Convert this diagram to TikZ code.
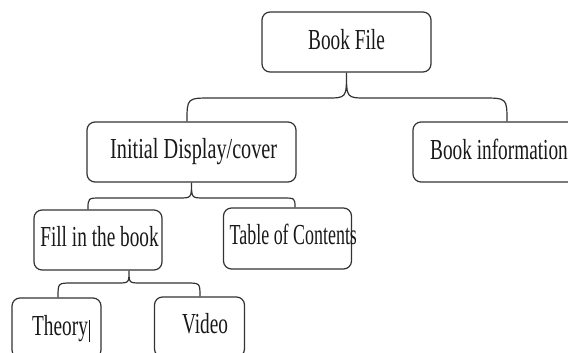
\documentclass[tikz,border=0pt]{standalone}
\usepackage{fontspec}
\setmainfont{Liberation Serif}[FakeStretch=0.665]
\usetikzlibrary{calc}
\tikzset{
  box/.style={draw=black!80, line width=1.2pt, rounded corners=8pt, inner sep=0pt, fill=white},
  lbl/.style={inner sep=0pt, text=black!90, font=\fontsize{29pt}{32pt}\selectfont},
  conn/.style={draw=black!80, line width=1.2pt},
}
\newcommand\mybrace[6]{% #1 tip, #2 left end, #3 right end, #4 y of bar, #5 tip half width, #6 end radius
  \draw[conn] let \p1=#1, \p2=#2, \p3=#3 in
    (\p2) .. controls (\x2,#4) .. (\x2+#6pt,#4) -- (\x1-#5pt,#4)
    .. controls (\x1,#4) .. (\p1)
    .. controls (\x1,#4) .. (\x1+#5pt,#4) -- (\x3-#6pt,#4)
    .. controls (\x3,#4) .. (\p3);
}
\begin{document}
\begin{tikzpicture}[x=1pt,y=1pt]
\useasboundingbox (0,0) rectangle (568,-353);
\clip (0,0) rectangle (568,-353);
\fill[white] (0,0) rectangle (568,-353);
% boxes
\node[box, minimum width=169pt, minimum height=60pt] (bf) at (346.5,-42) {};
\node[box, minimum width=209pt, minimum height=60pt] (init) at (191.5,-152) {};
\node[box, minimum width=172pt, minimum height=60pt] (info) at (499,-152) {};
\node[box, minimum width=128pt, minimum height=60pt] (fill) at (98,-240) {};
\node[box, minimum width=128pt, minimum height=61pt] (toc) at (287.5,-238.5) {};
\node[box, minimum width=89pt, minimum height=60pt] (theory) at (56.5,-328) {};
\node[box, minimum width=90pt, minimum height=60pt] (video) at (199.5,-327) {};
% texts
\node[lbl, anchor=base] (bft) at (346.5,-50) {Book File};
\node[lbl, anchor=base] (initt) at (193.7,-158) {\scalebox{1.05}[1]{Initial Display/cover}};
\node[lbl, anchor=base] (infot) at (499,-159) {Book information};
\node[lbl, anchor=base] (fillt) at (99.5,-246) {Fill in the book};
\node[lbl, anchor=base west] (toct) at (229.5,-244) {\scalebox{0.93}[1]{Table of Contents}};
\node[lbl, anchor=base west] (theoryt) at (32,-335) {Theory\kern1pt\rule[-7pt]{1.1pt}{22pt}};
\node[lbl, anchor=base] (videot) at (205,-333) {Video};
% connectors
\mybrace{(bf.south)}{([xshift=-4.5pt]init.north)}{([xshift=8pt]info.north)}{-98}{20}{25}
\mybrace{(init.south)}{([xshift=-10pt]fill.north)}{([xshift=7.5pt]toc.north)}{-198}{13}{13}
\mybrace{([xshift=31pt]fill.south)}{([xshift=1.5pt]theory.north)}{([xshift=0.5pt]video.north)}{-283}{12}{14}
\end{tikzpicture}
\end{document}
